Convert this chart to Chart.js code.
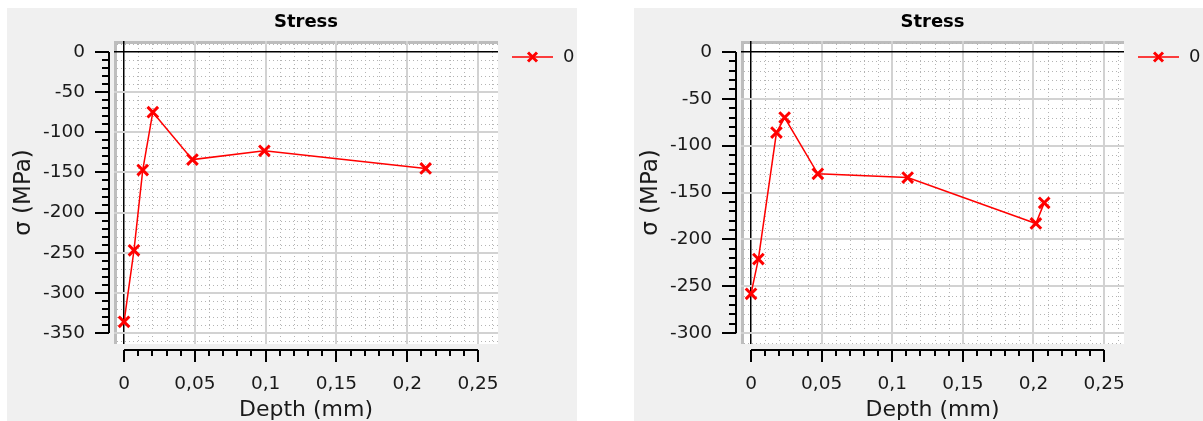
<!doctype html>
<html lang="en">
<head>
<meta charset="utf-8">
<title>Stress</title>
<script src="https://cdn.jsdelivr.net/npm/chart.js@4.4.0/dist/chart.umd.min.js"></script>
<style>
    body { margin: 0; background: #fff; overflow: hidden; }
    .panel { position: absolute; top: 8px; height: 415px; background: #f0f0f0; }
    #p1 { left: 7px; width: 570px; }
    #p2 { left: 634px; width: 569px; }
</style>
</head>
<body>
<div class="panel" id="p1"><canvas id="c1" width="570" height="415"></canvas></div>
<div class="panel" id="p2"><canvas id="c2" width="569" height="415"></canvas></div>
<script>
    // left sample
    let depthA = [0, 0.007, 0.0132, 0.0203, 0.0483, 0.0991, 0.213];
    let stressA = [-336, -247, -147, -75, -134, -123, -145];
    // right sample
    let depthB = [0, 0.0052, 0.018, 0.0238, 0.0473, 0.1109, 0.2017, 0.2076];
    let stressB = [-258, -221, -86, -70, -130, -134, -183, -161];

    let seriesLabel = '0';
    let xTicks = [0, 0.05, 0.1, 0.15, 0.2, 0.25];
    let yTicksA = [0, -50, -100, -150, -200, -250, -300, -350];
    let yTicksB = [0, -50, -100, -150, -200, -250, -300];

    const FONT = 'DejaVu Sans';
    const RED = '#ff0000';

    // little line + cross used as legend symbol
    const legendMark = document.createElement('canvas');
    legendMark.width = 49;
    legendMark.height = 16;
    (function () {
        const c = legendMark.getContext('2d');
        c.strokeStyle = RED;
        c.lineWidth = 1.5;
        c.beginPath(); c.moveTo(7, 8); c.lineTo(48, 8); c.stroke();
        c.lineWidth = 3;
        c.beginPath();
        c.moveTo(23, 3.5); c.lineTo(32, 12.5);
        c.moveTo(32, 3.5); c.lineTo(23, 12.5);
        c.stroke();
    })();

    // white plot box, frame, dotted minor grid and the outer rulers
    const plotDeco = {
        id: 'plotDeco',
        beforeDraw(chart) {
            const {ctx, chartArea: a, scales: {x, y}} = chart;
            ctx.save();
            ctx.fillStyle = '#ffffff';
            ctx.fillRect(a.left, a.top, a.right - a.left, a.bottom - a.top);
            ctx.fillStyle = '#bdbdbd';
            ctx.fillRect(a.left, a.top, a.right - a.left, 3);
            ctx.fillRect(a.left, a.top, 3, a.bottom - a.top);

            ctx.strokeStyle = '#b4b4b4';
            ctx.lineWidth = 1;
            ctx.setLineDash([1, 3]);
            for (let i = Math.ceil(x.min / 0.01); i * 0.01 <= x.max; i++) {
                if (i % 5 === 0) continue;
                const px = Math.round(x.getPixelForValue(i * 0.01)) + 0.5;
                ctx.beginPath(); ctx.moveTo(px, a.top + 3); ctx.lineTo(px, a.bottom); ctx.stroke();
            }
            for (let j = Math.ceil(y.min / 10); j * 10 <= y.max; j++) {
                if (j % 5 === 0) continue;
                const py = Math.round(y.getPixelForValue(j * 10)) + 0.5;
                ctx.beginPath(); ctx.moveTo(a.left + 3, py); ctx.lineTo(a.right, py); ctx.stroke();
            }
            ctx.restore();
        },
        afterDraw(chart, args, opts) {
            const {ctx, chartArea: a, scales: {x, y}} = chart;
            const yT = opts.yTicks, xT = opts.xTicks;
            const yLow = yT[yT.length - 1], xHigh = xT[xT.length - 1];
            ctx.save();
            ctx.strokeStyle = '#000';
            ctx.lineWidth = 2;
            // y ruler
            const rx = a.left - 5;
            ctx.beginPath();
            ctx.moveTo(rx, y.getPixelForValue(0));
            ctx.lineTo(rx, y.getPixelForValue(yLow));
            for (let v = 0; v >= yLow; v -= 10) {
                const py = Math.round(y.getPixelForValue(v));
                const len = v % 50 === 0 ? 14 : 7;
                ctx.moveTo(rx, py); ctx.lineTo(rx - len, py);
            }
            ctx.stroke();
            // x ruler
            const ry = a.bottom + 6;
            ctx.beginPath();
            ctx.moveTo(x.getPixelForValue(0), ry);
            ctx.lineTo(x.getPixelForValue(xHigh), ry);
            for (let i = 0; i * 0.01 <= xHigh + 1e-9; i++) {
                const px = Math.round(x.getPixelForValue(i * 0.01));
                const len = i % 5 === 0 ? 12 : 6;
                ctx.moveTo(px, ry); ctx.lineTo(px, ry + len);
            }
            ctx.stroke();
            ctx.restore();
        }
    };

    function makeChart(id, depth, stress, yTicks, yMin, yMax) {
        const points = depth.map((d, i) => ({x: d, y: stress[i]}));
        const gridColor = c => c.tick.value === 0 ? '#000000' : '#d2d2d2';
        const gridWidth = c => c.tick.value === 0 ? 1.5 : 2;
        return new Chart(document.getElementById(id), {
            type: 'scatter',
            data: {
                datasets: [{
                    label: seriesLabel,
                    data: points,
                    showLine: true,
                    borderColor: RED,
                    backgroundColor: RED,
                    borderWidth: 1.5,
                    pointStyle: 'crossRot',
                    pointRadius: 7.5,
                    pointBorderWidth: 3,
                    pointBorderColor: RED
                }]
            },
            options: {
                responsive: false,
                animation: false,
                layout: {padding: 0},
                scales: {
                    x: {
                        type: 'linear',
                        min: -0.0071,
                        max: 0.2641,
                        afterFit: s => { s.height = 79; },
                        border: {display: false},
                        grid: {color: gridColor, lineWidth: gridWidth, drawTicks: true, tickLength: 29, tickColor: 'rgba(0,0,0,0)'},
                        ticks: {
                            stepSize: 0.05,
                            includeBounds: false,
                            autoSkip: false,
                            maxRotation: 0,
                            padding: 0,
                            color: '#1a1a1a',
                            font: {size: 18.5, family: FONT},
                            callback: v => xTicks.includes(Math.round(v * 100) / 100) ? String(Math.round(v * 100) / 100).replace('.', ',') : ''
                        },
                        title: {
                            display: true,
                            text: 'Depth (mm)',
                            color: '#1a1a1a',
                            font: {size: 22, family: FONT},
                            padding: {top: 0, bottom: 0}
                        }
                    },
                    y: {
                        type: 'linear',
                        min: yMin,
                        max: yMax,
                        afterFit: s => { s.width = 107; },
                        border: {display: false},
                        grid: {color: gridColor, lineWidth: gridWidth, drawTicks: true, tickLength: 29, tickColor: 'rgba(0,0,0,0)'},
                        ticks: {
                            stepSize: 50,
                            includeBounds: false,
                            padding: 0,
                            color: '#1a1a1a',
                            font: {size: 18.5, family: FONT},
                            callback: v => yTicks.includes(v) ? String(v) : ''
                        },
                        title: {
                            display: true,
                            text: 'σ (MPa)',
                            color: '#1a1a1a',
                            font: {size: 23, family: FONT},
                            padding: {top: 3, bottom: 0}
                        }
                    }
                },
                plugins: {
                    plotDeco: {yTicks: yTicks, xTicks: xTicks},
                    tooltip: {enabled: false},
                    title: {
                        display: true,
                        text: 'Stress',
                        fullSize: false,
                        color: '#000',
                        font: {size: 18, weight: 'bold', family: FONT},
                        padding: {top: 4, bottom: 7.4}
                    },
                    legend: {
                        position: 'right',
                        align: 'start',
                        fullSize: false,
                        maxWidth: 79,
                        labels: {
                            usePointStyle: true,
                            pointStyleWidth: 49,
                            padding: 7,
                            color: '#1a1a1a',
                            font: {size: 18, family: FONT},
                            generateLabels: chart => Chart.defaults.plugins.legend.labels.generateLabels(chart)
                                .map(l => Object.assign(l, {pointStyle: legendMark}))
                        }
                    }
                }
            },
            plugins: [plotDeco]
        });
    }

    makeChart('c1', depthA, stressA, yTicksA, -363.6, 13.7);
    makeChart('c2', depthB, stressB, yTicksB, -311.6, 11.7);
</script>
</body>
</html>
